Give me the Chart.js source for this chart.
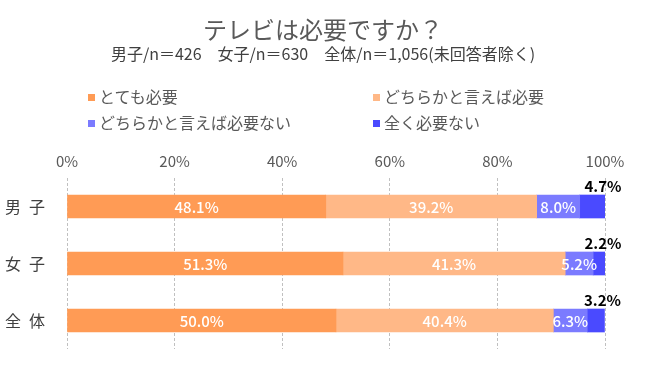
<!DOCTYPE html>
<html lang="ja">
<head>
<meta charset="utf-8">
<title>テレビは必要ですか？</title>
<script src="https://cdn.jsdelivr.net/npm/chart.js@4"></script>
<style>
  body { margin: 0; background: #fff; font-family: "Noto Sans CJK JP", sans-serif; }
  #wrap { position: relative; width: 646px; height: 373px; overflow: hidden; }
  #chart { position: absolute; left: 0; top: 0; }
  .title { position: absolute; left: 0; width: 646px; text-align: center; white-space: nowrap; }
  #mainTitle { top: 17px; font-size: 24px; line-height: 24px; color: #595959; }
  #subTitle { top: 45px; font-size: 16px; line-height: 16px; color: #404040; }
  .legendItem { position: absolute; font-size: 16px; line-height: 16px; color: #595959; white-space: nowrap; }
  .legendItem span { display: inline-block; width: 7px; height: 7px; margin-right: 4px; vertical-align: 2px; }
</style>
</head>
<body>
<div id="wrap">
  <canvas id="chart" width="646" height="373"></canvas>
  <div id="mainTitle" class="title"></div>
  <div id="subTitle" class="title"></div>
  <div id="legend"></div>
</div>
<script>
// Data
const chartTitle = 'テレビは必要ですか？';
const chartSubtitle = '男子/n＝426　女子/n＝630　全体/n＝1,056(未回答者除く)';
const categories = ['男\u2002子', '女\u2002子', '全\u2002体'];
const seriesNames = ['とても必要', 'どちらかと言えば必要', 'どちらかと言えば必要ない', '全く必要ない'];
const veryNeeded = [48.1, 51.3, 50.0];
const ratherNeeded = [39.2, 41.3, 40.4];
const ratherNotNeeded = [8.0, 5.2, 6.3];
const notNeeded = [4.7, 2.2, 3.2];
const xTicks = [0, 20, 40, 60, 80, 100];

const colors = ['#ff9b55', '#ffb887', '#7b7bff', '#4a4aff'];
const fontFamily = '"Noto Sans CJK JP", sans-serif';

document.getElementById('mainTitle').textContent = chartTitle;
document.getElementById('subTitle').textContent = chartSubtitle;

// Legend (two columns)
const legendPos = [[88, 88], [373, 88], [88, 114], [373, 114]];
const legend = document.getElementById('legend');
seriesNames.forEach((name, i) => {
    const item = document.createElement('div');
    item.className = 'legendItem';
    item.style.left = legendPos[i][0] + 'px';
    item.style.top = legendPos[i][1] + 'px';
    item.innerHTML = `<span style="background:${colors[i]}"></span>${name}`;
    legend.appendChild(item);
});

// Value labels on the bars
const valueLabels = {
    id: 'valueLabels',
    afterDatasetsDraw(chart) {
        const ctx = chart.ctx;
        ctx.save();
        ctx.textAlign = 'center';
        ctx.textBaseline = 'middle';
        chart.data.datasets.forEach((ds, i) => {
            chart.getDatasetMeta(i).data.forEach((bar, j) => {
                const text = ds.data[j].toFixed(1) + '%';
                if (i < 3) {
                    ctx.font = '500 15px ' + fontFamily;
                    ctx.fillStyle = '#ffffff';
                    ctx.fillText(text, (bar.x + bar.base) / 2, bar.y + 1);
                } else {
                    ctx.font = 'bold 15px ' + fontFamily;
                    ctx.fillStyle = '#000000';
                    ctx.fillText(text, bar.x - 2, bar.y - bar.height / 2 - 9);
                }
            });
        });
        ctx.restore();
    }
};

const datasets = [veryNeeded, ratherNeeded, ratherNotNeeded, notNeeded].map((values, i) => ({
    label: seriesNames[i],
    data: values,
    backgroundColor: colors[i],
    borderWidth: 0,
    barThickness: 23
}));

new Chart(document.getElementById('chart').getContext('2d'), {
    type: 'bar',
    data: { labels: categories, datasets: datasets },
    plugins: [valueLabels],
    options: {
        indexAxis: 'y',
        responsive: false,
        animation: false,
        layout: { padding: { top: 140, right: 41, bottom: 24, left: 0 } },
        plugins: {
            legend: { display: false },
            title: { display: false },
            tooltip: { enabled: false }
        },
        scales: {
            x: {
                position: 'top',
                stacked: true,
                min: 0,
                max: 100,
                afterBuildTicks: scale => { scale.ticks = xTicks.map(v => ({ value: v })); },
                afterFit: scale => { scale.height = 38; },
                ticks: {
                    callback: v => v + '%',
                    color: '#595959',
                    padding: 8,
                    font: { family: fontFamily, size: 15 }
                },
                grid: { color: '#c0c0c0', lineWidth: 1, drawTicks: false },
                border: { display: false, dash: [3, 2] }
            },
            y: {
                stacked: true,
                afterFit: scale => { scale.width = 67; },
                ticks: {
                    color: '#404040',
                    padding: 14,
                    font: { family: fontFamily, size: 16 }
                },
                grid: { display: false },
                border: { display: false }
            }
        }
    }
});
</script>
</body>
</html>
